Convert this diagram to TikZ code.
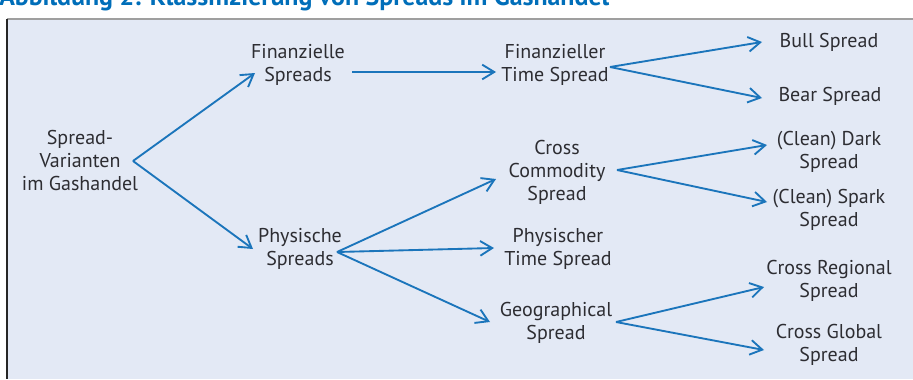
\documentclass[tikz,border=0pt]{standalone}
\usepackage{fontspec}
\setmainfont{PT Sans}
\usetikzlibrary{positioning, arrows.meta}

\definecolor{arrowblue}{RGB}{27,117,187}
\definecolor{titleblue}{RGB}{0,110,185}
\definecolor{bgblue}{RGB}{227,233,245}
\definecolor{textgray}{RGB}{45,45,50}

\begin{document}
\begin{tikzpicture}[x=0.75pt, y=-0.75pt, >={Straight Barb[length=9pt,width=11pt]},
    box/.style={align=center, inner sep=0pt, text=textgray, font=\fontsize{15}{17.25}\selectfont},
    arr/.style={->, line width=1.4pt, arrowblue}]
    \useasboundingbox (0,0) rectangle (913,379);

    % Frame
    \fill[bgblue] (7,19) rectangle (913,379);
    \draw[gray!75, line width=1pt] (7,19) -- (913,19);
    \draw[black!85, line width=1.6pt] (7,19) -- (7,379);

    % Title (cut off at the top)
    \node[anchor=base west, inner sep=0pt, text=titleblue, font=\bfseries\fontsize{19.4}{23}\selectfont]
        (title) at (-1,5) {Abbildung 2: Klassifizierung von Spreads im Gashandel};

    % Nodes
    \node[box] (root)        at (80,160)  {Spread-\\Varianten\\im Gashandel};
    \node[box] (finspreads)  at (298,65)  {Finanzielle\\Spreads};
    \node[box] (physspreads) at (300,249) {Physische\\Spreads};
    \node[box] (fintime)     at (555,65)  {Finanzieller\\Time Spread};
    \node[box] (crosscomm)   at (557,172) {Cross\\Commodity\\Spread};
    \node[box] (phystime)    at (558,249) {Physischer\\Time Spread};
    \node[box] (geo)         at (556,323) {Geographical\\Spread};
    \node[box] (bull)        at (829,42)  {Bull Spread};
    \node[box] (bear)        at (830,96)  {Bear Spread};
    \node[box] (dark)        at (829,152) {(Clean) Dark\\Spread};
    \node[box] (spark)       at (829,210) {(Clean) Spark\\Spread};
    \node[box] (crossreg)    at (829,281) {Cross Regional\\Spread};
    \node[box] (crossglob)   at (829,345) {Cross Global\\Spread};

    % Arrows
    \draw[arr] ([shift={(53,1)}]root.center) -- ([shift={(-43,8)}]finspreads.center);
    \draw[arr] ([shift={(53,1)}]root.center) -- ([shift={(-47,0)}]physspreads.center);
    \draw[arr] ([shift={(54,7)}]finspreads.center) -- ([shift={(-59,7)}]fintime.center);
    \draw[arr] ([shift={(55,2)}]fintime.center) -- ([shift={(-67,0)}]bull.center);
    \draw[arr] ([shift={(55,2)}]fintime.center) -- ([shift={(-68,2)}]bear.center);
    \draw[arr] ([shift={(37,3)}]physspreads.center) -- ([shift={(-61,7)}]crosscomm.center);
    \draw[arr] ([shift={(37,3)}]physspreads.center) -- ([shift={(-64,-1)}]phystime.center);
    \draw[arr] ([shift={(37,3)}]physspreads.center) -- ([shift={(-66,-1)}]geo.center);
    \draw[arr] ([shift={(60,-2)}]crosscomm.center) -- ([shift={(-62,-7)}]dark.center);
    \draw[arr] ([shift={(60,-2)}]crosscomm.center) -- ([shift={(-62,-8)}]spark.center);
    \draw[arr] ([shift={(60,-1)}]geo.center) -- ([shift={(-65,6)}]crossreg.center);
    \draw[arr] ([shift={(60,-1)}]geo.center) -- ([shift={(-65,5)}]crossglob.center);
\end{tikzpicture}
\end{document}
